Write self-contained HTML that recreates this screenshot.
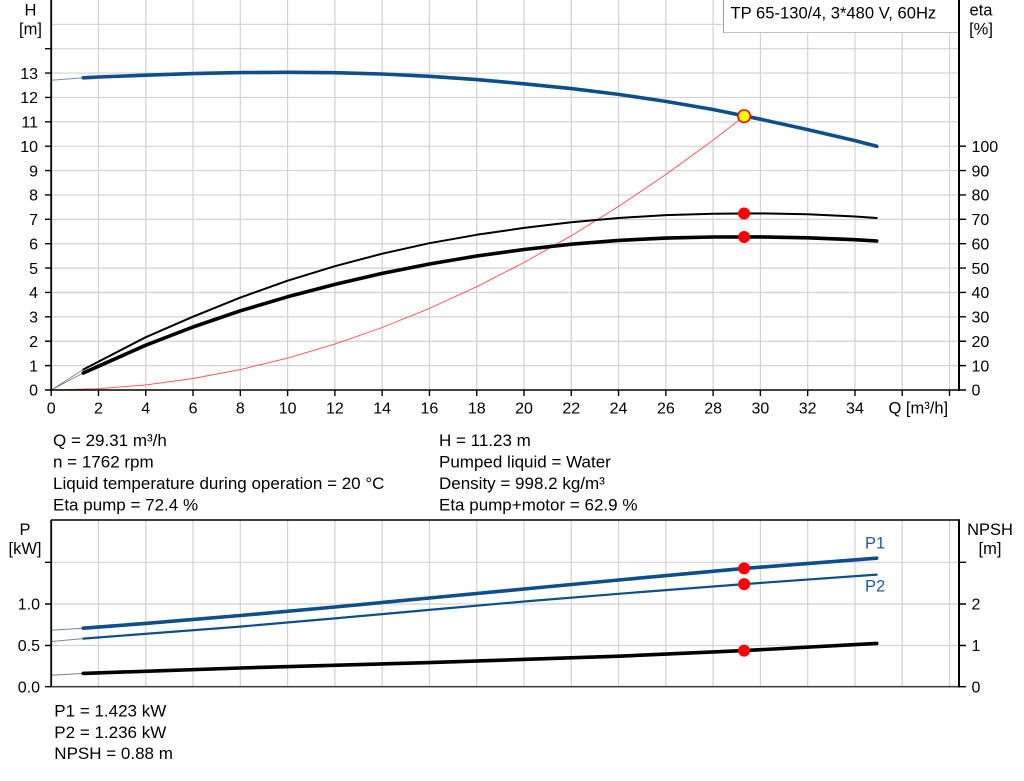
<!DOCTYPE html>
<html>
<head>
<meta charset="utf-8">
<style>
html,body{margin:0;padding:0;background:#fff;overflow:hidden;}
svg{display:block;}
text{font-family:"Liberation Sans",Arial,sans-serif;fill:#000;}
</style>
</head>
<body>
<svg width="1024" height="781" viewBox="0 0 1024 781" xmlns="http://www.w3.org/2000/svg">
<rect x="0" y="0" width="1024" height="781" fill="#fff"/>

<!-- TOP GRID -->
<g stroke="#d2d2d2" stroke-width="1.2" fill="none">
<path d="M98.48 0V390M145.76 0V390M193.04 0V390M240.32 0V390M287.6 0V390M334.88 0V390M382.16 0V390M429.44 0V390M476.72 0V390M524 0V390M571.28 0V390M618.56 0V390M665.84 0V390M713.12 0V390M760.4 0V390M807.68 0V390M854.96 0V390M902.24 0V390M949.52 0V390"/>
<path d="M51 365.62H959M51 341.24H959M51 316.86H959M51 292.48H959M51 268.1H959M51 243.72H959M51 219.34H959M51 194.96H959M51 170.58H959M51 146.2H959M51 121.82H959M51 97.44H959M51 73.06H959M51 48.68H959M51 24.3H959"/>
</g>

<!-- BOTTOM GRID -->
<g stroke="#d2d2d2" stroke-width="1.2" fill="none">
<path d="M98.48 520V687M145.76 520V687M193.04 520V687M240.32 520V687M287.6 520V687M334.88 520V687M382.16 520V687M429.44 520V687M476.72 520V687M524 520V687M571.28 520V687M618.56 520V687M665.84 520V687M713.12 520V687M760.4 520V687M807.68 520V687M854.96 520V687M902.24 520V687M949.52 520V687"/>
<path d="M51 562.3H959M51 604H959M51 645.5H959"/>
</g>

<!-- Legend box -->
<rect x="723.5" y="-1" width="235" height="33.5" fill="#fff" stroke="#a0a0a0" stroke-width="1"/>
<line x1="724" y1="32.5" x2="958" y2="32.5" stroke="#c0c0c0" stroke-width="1"/>
<text x="730.5" y="18.5" font-size="16.6">TP 65-130/4, 3*480 V, 60Hz</text>

<!-- TOP CURVES -->
<g fill="none" stroke-linejoin="round" stroke-linecap="round">
<path d="M51.2 390 L98.48 388.7 L145.76 384.9 L193.04 378.5 L240.32 369.6 L287.6 358.1 L334.88 344.1 L382.16 327.5 L429.44 308.4 L476.72 286.7 L524 262.5 L571.28 235.7 L618.56 206.4 L665.84 174.5 L713.12 140.1 L744.1 116.2" stroke="#ff4d4d" stroke-width="0.9"/>
<path d="M51.2 80.2 L83.3 77.8" stroke="#6f8fb0" stroke-width="1"/>
<path d="M51.2 390 L83.3 369.5" stroke="#808080" stroke-width="0.9"/>
<path d="M51.2 390 L83.3 373" stroke="#808080" stroke-width="0.9"/>
<path d="M83.3 77.8 L98.5 77.0 L145.8 75.2 L193 73.6 L240.3 72.6 L287.6 72.3 L334.9 72.7 L382.2 74 L429.4 76.3 L476.7 79.6 L524 83.8 L571.3 88.6 L618.6 94.4 L665.8 101.4 L713.1 109.5 L760.4 119.2 L807.7 129.6 L855 140.6 L876.7 146.3" stroke="#0e4e8a" stroke-width="3.6"/>
<path d="M83.3 369.5 L98.5 361.6 L145.8 337.2 L193 316.7 L240.3 297.6 L287.6 280.7 L334.9 266.2 L382.2 253.7 L429.4 243.2 L476.7 234.8 L524 227.9 L571.3 222.3 L618.6 218 L665.8 215.1 L713.1 213.7 L760.4 213.4 L807.7 214.3 L855 216.5 L876.7 218" stroke="#000" stroke-width="2"/>
<path d="M83.3 373 L98.5 366.2 L145.8 345.2 L193 327 L240.3 310.8 L287.6 296.8 L334.9 284.4 L382.2 273.4 L429.4 264 L476.7 256 L524 249.5 L571.3 244.2 L618.6 240.4 L665.8 238.1 L713.1 237 L760.4 236.9 L807.7 237.8 L855 239.7 L876.7 241" stroke="#000" stroke-width="3.6"/>
</g>

<!-- BOTTOM CURVES -->
<g fill="none" stroke-linejoin="round" stroke-linecap="round">
<path d="M51.2 630.3 L83.3 628.2" stroke="#6f8fb0" stroke-width="1"/>
<path d="M51.2 641.5 L83.3 638.6" stroke="#6f8fb0" stroke-width="1"/>
<path d="M51.2 675.2 L83.3 673.4" stroke="#808080" stroke-width="1"/>
<path d="M83.3 628.2 L145.8 623.4 L240.3 615.5 L334.9 607 L429.4 598 L524 589 L618.6 580 L744.1 568.4 L876.7 558.2" stroke="#0e4e8a" stroke-width="3.6"/>
<path d="M83.3 638.6 L240.3 626.6 L334.9 618.4 L429.4 609.9 L524 601.5 L618.6 593.8 L744.1 584.1 L876.7 574.6" stroke="#0e4e8a" stroke-width="2.2"/>
<path d="M83.3 673.4 L240.3 668 L429.4 662.6 L618.6 656.2 L744.1 650.6 L876.7 643.4" stroke="#000" stroke-width="3.6"/>
</g>

<!-- AXES TOP -->
<g stroke="#000" fill="none">
<line x1="51.2" y1="0" x2="51.2" y2="390.8" stroke-width="1.8"/>
<line x1="51" y1="390" x2="959" y2="390" stroke-width="1.6"/>
<line x1="959" y1="0" x2="959" y2="391" stroke-width="2"/>
<path stroke-width="1.4" d="M45 390H51M45 365.62H51M45 341.24H51M45 316.86H51M45 292.48H51M45 268.1H51M45 243.72H51M45 219.34H51M45 194.96H51M45 170.58H51M45 146.2H51M45 121.82H51M45 97.44H51M45 73.06H51M45 48.68H51"/>
<path stroke-width="1.4" d="M959 390H966M959 365.62H966M959 341.24H966M959 316.86H966M959 292.48H966M959 268.1H966M959 243.72H966M959 219.34H966M959 194.96H966M959 170.58H966M959 146.2H966"/>
<path stroke-width="1.4" d="M51.2 390V396M98.48 390V396M145.76 390V396M193.04 390V396M240.32 390V396M287.6 390V396M334.88 390V396M382.16 390V396M429.44 390V396M476.72 390V396M524 390V396M571.28 390V396M618.56 390V396M665.84 390V396M713.12 390V396M760.4 390V396M807.68 390V396M854.96 390V396M902.24 390V396M949.52 390V396"/>
</g>

<!-- AXES BOTTOM -->
<g stroke="#000" fill="none">
<line x1="51" y1="520" x2="959" y2="520" stroke-width="1.6"/>
<line x1="51.2" y1="520" x2="51.2" y2="687.5" stroke-width="1.8"/>
<line x1="51" y1="686.7" x2="959" y2="686.7" stroke-width="1.6" stroke="#444"/>
<line x1="959" y1="519.2" x2="959" y2="687.5" stroke-width="2"/>
<path stroke-width="1.4" d="M45 686.7H51M45 645.5H51M45 604H51M45 562.3H51"/>
<path stroke-width="1.4" d="M959 686.7H966M959 645.5H966M959 604H966M959 562.3H966"/>
</g>

<!-- MARKERS -->
<circle cx="744.1" cy="213.5" r="6" fill="#ff0000"/>
<circle cx="744.1" cy="237" r="6" fill="#ff0000"/>
<circle cx="744.1" cy="116.2" r="6.2" fill="#ffff00" stroke="#ff0000" stroke-width="1.6"/>
<circle cx="744.1" cy="568.4" r="6" fill="#ff0000"/>
<circle cx="744.1" cy="584.1" r="6" fill="#ff0000"/>
<circle cx="744.1" cy="650.6" r="6" fill="#ff0000"/>

<!-- AXIS TITLES -->
<g font-size="16.5">
<text x="30.5" y="15.5" text-anchor="middle">H</text>
<text x="30.5" y="34.5" text-anchor="middle">[m]</text>
<text x="981" y="15.5" text-anchor="middle">eta</text>
<text x="981" y="34.5" text-anchor="middle">[%]</text>
<text x="25" y="535" text-anchor="middle">P</text>
<text x="25" y="554" text-anchor="middle">[kW]</text>
<text x="990" y="535" text-anchor="middle">NPSH</text>
<text x="990" y="554" text-anchor="middle">[m]</text>
</g>

<!-- LEFT TICK LABELS TOP -->
<g font-size="16" text-anchor="end">
<text x="38" y="395.7">0</text>
<text x="38" y="371.3">1</text>
<text x="38" y="346.9">2</text>
<text x="38" y="322.6">3</text>
<text x="38" y="298.2">4</text>
<text x="38" y="273.8">5</text>
<text x="38" y="249.4">6</text>
<text x="38" y="225">7</text>
<text x="38" y="200.7">8</text>
<text x="38" y="176.3">9</text>
<text x="38" y="151.9">10</text>
<text x="38" y="127.5">11</text>
<text x="38" y="103.1">12</text>
<text x="38" y="78.8">13</text>
</g>

<!-- RIGHT TICK LABELS TOP -->
<g font-size="16" text-anchor="start">
<text x="971.5" y="395.7">0</text>
<text x="971.5" y="371.3">10</text>
<text x="971.5" y="346.9">20</text>
<text x="971.5" y="322.6">30</text>
<text x="971.5" y="298.2">40</text>
<text x="971.5" y="273.8">50</text>
<text x="971.5" y="249.4">60</text>
<text x="971.5" y="225">70</text>
<text x="971.5" y="200.7">80</text>
<text x="971.5" y="176.3">90</text>
<text x="971.5" y="151.9">100</text>
</g>

<!-- X TICK LABELS -->
<g font-size="16" text-anchor="middle">
<text x="51.2" y="413.5">0</text>
<text x="98.48" y="413.5">2</text>
<text x="145.76" y="413.5">4</text>
<text x="193.04" y="413.5">6</text>
<text x="240.32" y="413.5">8</text>
<text x="287.6" y="413.5">10</text>
<text x="334.88" y="413.5">12</text>
<text x="382.16" y="413.5">14</text>
<text x="429.44" y="413.5">16</text>
<text x="476.72" y="413.5">18</text>
<text x="524" y="413.5">20</text>
<text x="571.28" y="413.5">22</text>
<text x="618.56" y="413.5">24</text>
<text x="665.84" y="413.5">26</text>
<text x="713.12" y="413.5">28</text>
<text x="760.4" y="413.5">30</text>
<text x="807.68" y="413.5">32</text>
<text x="854.96" y="413.5">34</text>
</g>
<text x="888.5" y="413.5" font-size="16.5">Q [m³/h]</text>

<!-- BOTTOM TICK LABELS -->
<g font-size="16" text-anchor="end">
<text x="40" y="692.4">0.0</text>
<text x="40" y="651.2">0.5</text>
<text x="40" y="609.7">1.0</text>
</g>
<g font-size="16" text-anchor="start">
<text x="971.5" y="692.4">0</text>
<text x="971.5" y="651.2">1</text>
<text x="971.5" y="609.7">2</text>
</g>

<!-- P1/P2 labels -->
<text x="865" y="548.3" font-size="16.5" style="fill:#1f5a8f">P1</text>
<text x="865" y="591.7" font-size="16.5" style="fill:#1f5a8f">P2</text>

<!-- INFO TEXT -->
<g font-size="17">
<text x="53" y="446">Q = 29.31 m³/h</text>
<text x="53" y="467.5">n = 1762 rpm</text>
<text x="53" y="489">Liquid temperature during operation = 20 °C</text>
<text x="53" y="510.5">Eta pump = 72.4 %</text>
<text x="439" y="446">H = 11.23 m</text>
<text x="439" y="467.5">Pumped liquid = Water</text>
<text x="439" y="489">Density = 998.2 kg/m³</text>
<text x="439" y="510.5">Eta pump+motor = 62.9 %</text>
<text x="54.3" y="716.7">P1 = 1.423 kW</text>
<text x="54.3" y="738.2">P2 = 1.236 kW</text>
<text x="54.3" y="759">NPSH = 0.88 m</text>
</g>
</svg>
</body>
</html>
